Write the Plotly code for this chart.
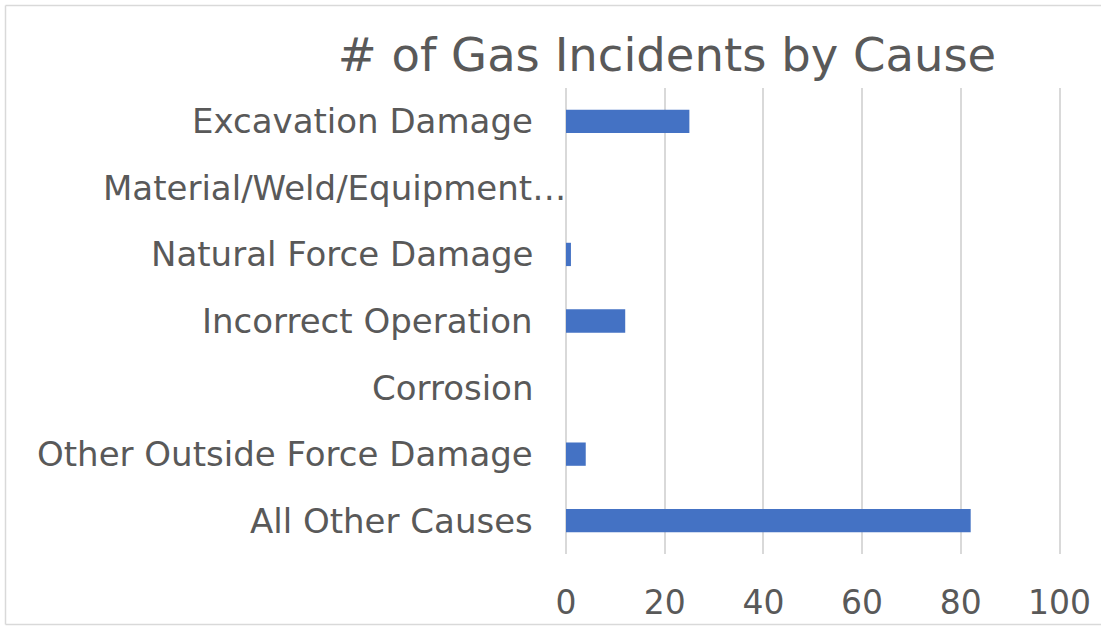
import plotly.graph_objects as go

categories = [
    "Excavation Damage",
    "Material/Weld/Equipment…",
    "Natural Force Damage",
    "Incorrect Operation",
    "Corrosion",
    "Other Outside Force Damage",
    "All Other Causes",
]
values = [25, 0, 1, 12, 0, 4, 82]
x_ticks = [0, 20, 40, 60, 80, 100]
title_text = "# of Gas Incidents by Cause"

W, H = 1101, 626
L, R, T, B = 566, 40, 88, 72
pw, ph = W - L - R, H - T - B

FONT = "DejaVu Sans"
TXT = "#595959"
GRID = "#D9D9D9"
BAR = "#4472C4"

fig = go.Figure(
    go.Bar(
        x=values,
        y=categories,
        orientation="h",
        marker=dict(color=BAR, line=dict(width=0)),
        hoverinfo="x+y",
    )
)

annotations = []
for c in categories:
    shift = -31 if not c.startswith("Material") else 2
    annotations.append(
        dict(
            x=0, xref="paper", y=c, yref="y",
            text=c, showarrow=False, xanchor="right", yanchor="middle",
            xshift=shift, font=dict(family=FONT, size=34, color=TXT),
        )
    )

def px_x(p):
    return (p - L) / pw

def px_y(p):
    return (H - B - p) / ph

bx0, bx1, by0, by1 = px_x(5.5), px_x(1130), px_y(624.5), px_y(5.5)
border = dict(color=GRID, width=1.5)
shapes = [
    dict(type="line", xref="paper", yref="paper", x0=bx0, x1=bx1, y0=by1, y1=by1, line=border, layer="below"),
    dict(type="line", xref="paper", yref="paper", x0=bx0, x1=bx1, y0=by0, y1=by0, line=border, layer="below"),
    dict(type="line", xref="paper", yref="paper", x0=bx0, x1=bx0, y0=by0, y1=by1, line=border, layer="below"),
]

fig.update_layout(
    width=W, height=H,
    margin=dict(l=L, r=R, t=T, b=B, pad=0, autoexpand=False),
    paper_bgcolor="white", plot_bgcolor="white",
    bargap=0.65,
    showlegend=False,
    title=dict(
        text=title_text, x=px_x(667), xref="paper", xanchor="center",
        y=1 - 55 / H, yref="container", yanchor="middle",
        font=dict(family=FONT, size=46.5, color=TXT),
    ),
    xaxis=dict(
        range=[0, 100.3], tickvals=x_ticks, showgrid=True, gridcolor=GRID, gridwidth=1.5,
        zeroline=True, zerolinecolor=GRID, zerolinewidth=1.5,
        showline=False, ticks="", ticklabelstandoff=26, automargin=False,
        tickfont=dict(family=FONT, size=33, color=TXT), fixedrange=True,
    ),
    yaxis=dict(
        categoryorder="array", categoryarray=categories, autorange="reversed",
        showticklabels=False, showgrid=False, zeroline=False, showline=False, ticks="",
        fixedrange=True, automargin=False,
    ),
    annotations=annotations,
    shapes=shapes,
)

fig.write_html(
    "out.html",
    config={"displayModeBar": False},
    post_script="document.body.style.margin='0';document.body.style.overflow='hidden';",
)
